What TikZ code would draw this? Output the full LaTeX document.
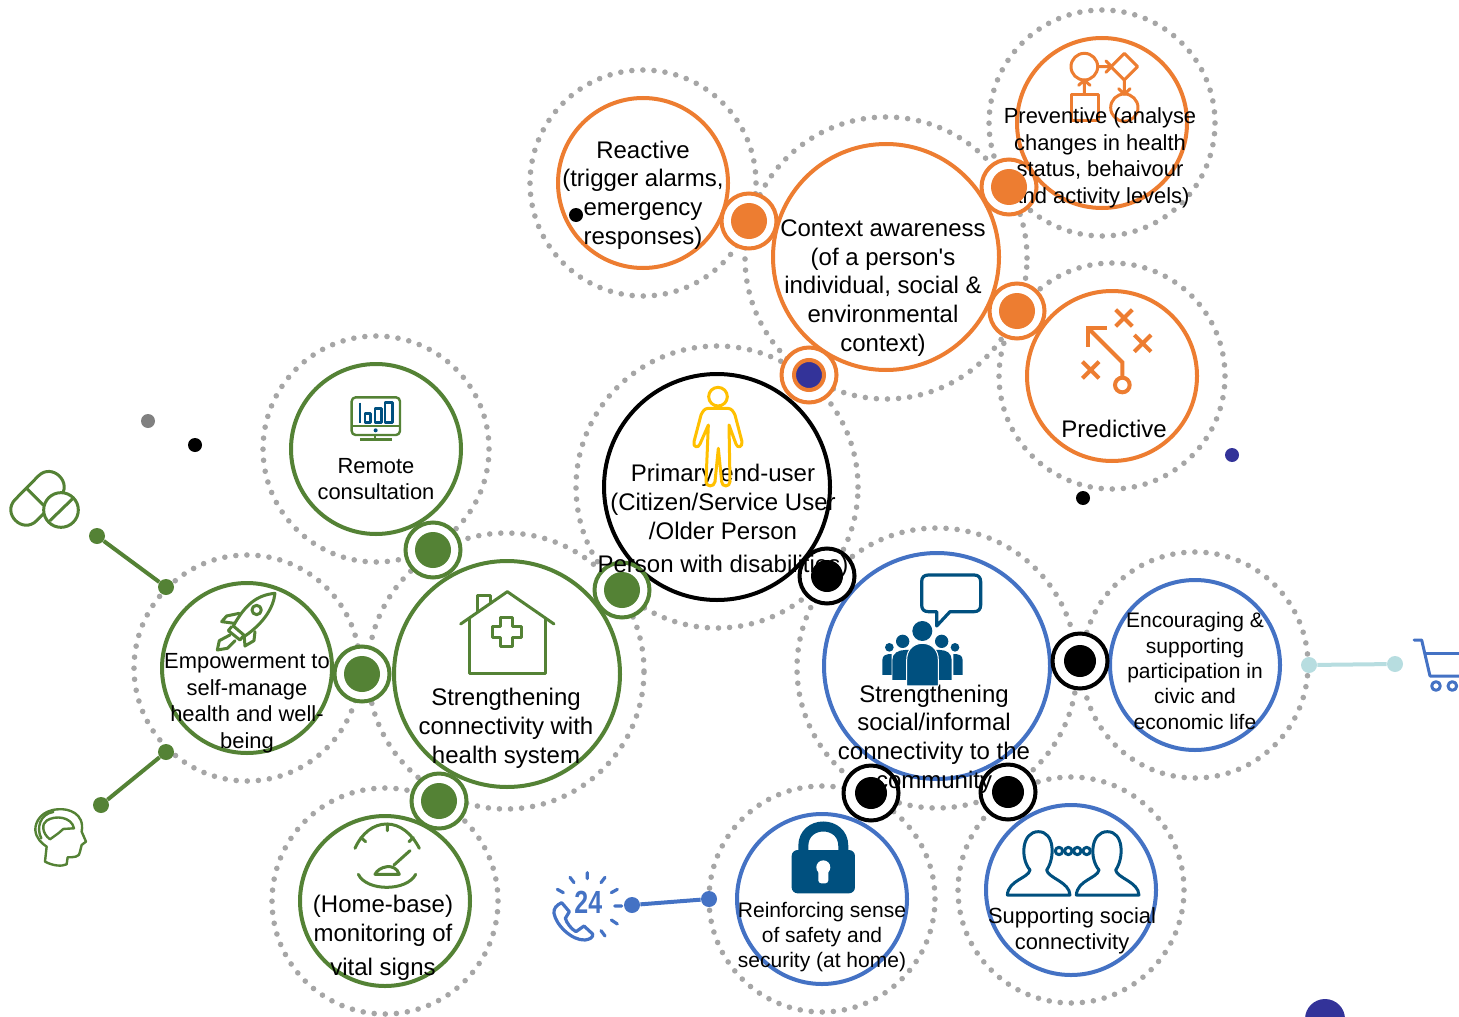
\documentclass[tikz,border=0pt]{standalone}
\usepackage{fontspec}
\setmainfont{Liberation Sans}
\definecolor{oran}{HTML}{ED7D31}
\definecolor{gren}{HTML}{548235}
\definecolor{blu}{HTML}{4472C4}
\definecolor{navy}{HTML}{333399}
\definecolor{deep}{HTML}{00507F}
\definecolor{dotg}{HTML}{A6A6A6}
\definecolor{teal2}{HTML}{B7DDE0}
\definecolor{yell}{HTML}{FFC000}
\tikzset{
 dotring/.style={circle,draw=dotg,line width=2.8pt,line cap=round,dash pattern=on 0pt off 5.55pt,minimum size=#1,inner sep=0pt},
 maincirc/.style={circle,line width=2pt,fill=white,minimum size=#1,inner sep=0pt},
 ringc/.style={circle,line width=2pt,fill=white,minimum size=27.5pt,inner sep=0pt},
 core/.style={circle,minimum size=#1,inner sep=0pt},
 lab/.style={align=center,inner sep=0pt,text=black,font=\fontsize{12}{14.4}\selectfont},
 labm/.style={align=center,inner sep=0pt,text=black,font=\fontsize{10.95}{13.25}\selectfont},
 labs/.style={align=center,inner sep=0pt,text=black,font=\fontsize{10.5}{12.7}\selectfont},
 ico/.style={line width=1.5pt,line join=round,line cap=round},
 tip/.style={circle,minimum size=#1,inner sep=0pt},
 tail/.style={line width=2pt},
}
\begin{document}
\begin{tikzpicture}[x=0.5pt,y=-0.5pt]
\path[clip] (0,0) rectangle (1459,1016);
% dotted halos
\node[dotring=113pt] (dReact) at (643,183) {};
\node[dotring=141pt] (dCtx) at (886,258) {};
\node[dotring=113pt] (dPrev) at (1102,123) {};
\node[dotring=113pt] (dPred) at (1112,376) {};
\node[dotring=141pt] (dPrim) at (717,487) {};
\node[dotring=140pt] (dSoc) at (937,668) {};
\node[dotring=113pt] (dEnc) at (1195,665) {};
\node[dotring=113pt] (dRein) at (822,899) {};
\node[dotring=113pt] (dSup) at (1071,890) {};
\node[dotring=138pt] (dHea) at (506,671) {};
\node[dotring=113pt] (dEmp) at (247,668) {};
\node[dotring=113pt] (dRem) at (376,449) {};
\node[dotring=113pt] (dHome) at (385,901) {};
% main circles
\node[maincirc=85pt,draw=oran] (cReact) at (643,183) {};
\node[maincirc=113pt,draw=oran] (cCtx) at (886,257) {};
\node[maincirc=85pt,draw=oran] (cPrev) at (1102,123) {};
\node[maincirc=85pt,draw=oran] (cPred) at (1112,376) {};
\node[maincirc=113pt,draw=black] (cPrim) at (717,487) {};
\node[maincirc=113pt,draw=blu] (cSoc) at (937,666) {};
\node[maincirc=85pt,draw=blu] (cEnc) at (1195,665) {};
\node[maincirc=85pt,draw=blu] (cRein) at (822,899) {};
\node[maincirc=85pt,draw=blu] (cSup) at (1071,890) {};
\node[maincirc=113pt,draw=gren] (cHea) at (507,674) {};
\node[maincirc=85pt,draw=gren] (cEmp) at (247,668) {};
\node[maincirc=85pt,draw=gren] (cRem) at (376,449) {};
\node[maincirc=85pt,draw=gren] (cHome) at (385,901) {};
% rings
\node[ringc,draw=oran] (rA) at (749,221) {};
\node[ringc,draw=oran] (rB) at (1009,187) {};
\node[ringc,draw=oran] (rC) at (1017,311) {};
\node[ringc,draw=oran] (rD) at (809,375) {};
\node[ringc,draw=black] (rE) at (827,576) {};
\node[ringc,draw=black] (rF) at (1080,661) {};
\node[ringc,draw=black] (rG) at (871,793) {};
\node[ringc,draw=black] (rH) at (1008,792) {};
\node[ringc,draw=gren] (rI) at (433,550) {};
\node[ringc,draw=gren] (rJ) at (622,590) {};
\node[ringc,draw=gren] (rK) at (362,674) {};
\node[ringc,draw=gren] (rL) at (439,801) {};
% Preventive icon (under its text)
\begin{scope}[shift={(980,0)},scale=0.3333,ico,draw=oran]
\draw (313,200) circle (40);
\draw (433,160)--(473,200)--(433,240)--(393,200)--cycle;
\draw (355,200)--(393,200) (378,183)--(395,200)--(378,217);
\draw (273,283) rectangle (355,362);
\draw (313,283)--(313,242) (296,256)--(313,240)--(330,256);
\draw (433,240)--(433,282) (416,266)--(433,283)--(450,266);
\draw (433,323) circle (41);
\end{scope}
% labels
\node[lab] (tReact) at (643,195) {Reactive\\(trigger alarms,\\emergency\\responses)};
\node[lab] (tCtx) at (883,288) {Context awareness\\(of a person\textquotesingle s\\individual, social \&\\environmental\\context)};
\node[labm] (tPrev) at (1100,158) {Preventive (analyse\\changes in health\\status, behaivour\\and activity levels)};
\node[lab] (tPred) at (1114,429) {Predictive};
\node[lab] (tPrim) at (723,521) {Primary end-user\\(Citizen/Service User\\/Older Person\\[2.5pt]Person with disabilities)};
\node[labm] (tRem) at (376,479) {Remote\\consultation};
\node[labm] (tEmp) at (247,703) {Empowerment to\\self-manage\\health and well-\\being};
\node[lab] (tHea) at (506,728) {Strengthening\\connectivity with\\health system};
\node[lab] (tHome) at (383,938) {(Home-base)\\monitoring of\\[2.5pt]vital signs};
\node[lab] (tSoc) at (934,739) {Strengthening\\social/informal\\connectivity to the\\community};
\node[labs] (tEnc) at (1195,671) {Encouraging \&\\supporting\\participation in\\civic and\\economic life};
\node[labs] (tRein) at (822,937) {Reinforcing sense\\of safety and\\security (at home)};
\node[labm] (tSup) at (1072,931) {Supporting social\\connectivity};
% cores
\node[core=18pt,fill=oran] (kA) at (749,221) {};
\node[core=18pt,fill=oran] (kB) at (1009,187) {};
\node[core=18pt,fill=oran] (kC) at (1017,311) {};
\node[core=15pt,fill=navy,draw=oran,line width=2pt] (kD) at (809,375) {};
\node[core=16pt,fill=black] (kE) at (827,576) {};
\node[core=16pt,fill=black] (kF) at (1080,661) {};
\node[core=16pt,fill=black] (kG) at (871,793) {};
\node[core=16pt,fill=black] (kH) at (1008,792) {};
\node[core=18pt,fill=gren] (kI) at (433,550) {};
\node[core=18pt,fill=gren] (kJ) at (622,590) {};
\node[core=18pt,fill=gren] (kK) at (362,674) {};
\node[core=18pt,fill=gren] (kL) at (439,801) {};
% loose dots
\node[core=7pt,fill=black] (s1) at (576,215) {};
\node[core=7pt,fill=gray] (s2) at (148,421) {};
\node[core=7pt,fill=black] (s3) at (195,445) {};
\node[core=7pt,fill=black] (s4) at (1083,498) {};
\node[core=7pt,fill=navy] (s5) at (1232,455) {};
\node[core=20pt,fill=navy] (s6) at (1325,1019) {};
% tails
\node[tip=8pt,fill=gren] (g1) at (97,536) {};
\node[tip=8pt,fill=gren] (g2) at (166,587) {};
\node[tip=8pt,fill=gren] (g3) at (166,752) {};
\node[tip=8pt,fill=gren] (g4) at (101,805) {};
\draw[tail,draw=gren] (g1)--(g2);
\draw[tail,draw=gren] (g3)--(g4);
\node[tip=8pt,fill=blu] (b1) at (632,905) {};
\node[tip=8pt,fill=blu] (b2) at (709,899) {};
\draw[tail,draw=blu] (b1)--(b2);
\node[tip=8pt,fill=teal2] (q1) at (1309,665) {};
\node[tip=8pt,fill=teal2] (q2) at (1395,664) {};
\draw[tail,draw=teal2] (q1)--(q2);
% Predictive icon
\begin{scope}[shift={(1060,300)},scale=0.3333,draw=oran,line width=2pt]
\draw (167,29)--(217,79) (217,29)--(167,79);
\draw (223,105)--(273,155) (273,105)--(223,155);
\draw (67,185)--(117,235) (117,185)--(67,235);
\draw[miter limit=10] (140,85)--(85,85)--(85,140);
\draw (85,85)--(187,187)--(187,228);
\draw (187,255) circle (22);
\end{scope}
% Person icon
\begin{scope}[shift={(680,340)},scale=0.3333,ico,draw=yell]
\draw (114,170) circle (28);
\draw (85,205) -- (143,205) .. controls (155,205) and (160,215) .. (165,225) -- (186,305) .. controls (188,322) and (172,326) .. (168,312) -- (147,255) -- (150,425) .. controls (150,442) and (125,442) .. (125,425) -- (115,325) -- (105,425) .. controls (103,442) and (78,442) .. (78,425) -- (85,255) -- (60,312) .. controls (55,326) and (38,322) .. (42,305) -- (63,225) .. controls (68,215) and (73,205) .. (85,205) -- cycle;
\end{scope}
% Pills
\begin{scope}[shift={(0,400)},scale=0.3333,ico,draw=gren]
\draw (46,298)--(115,228) .. controls (157,186) and (221,250) .. (179,292) -- (110,362) .. controls (68,404) and (4,340) .. (46,298) -- cycle;
\draw (80,265)--(130,315);
\draw[fill=white] (183,330) circle (52);
\draw (150,362)--(217,297);
% Head
\draw[line width=1.2pt] (135,1385) .. controls (160,1398) and (185,1400) .. (200,1393) -- (203,1372) .. controls (220,1372) and (240,1372) .. (240,1355) -- (245,1335) -- (258,1325) -- (245,1295) .. controls (255,1240) and (205,1225) .. (175,1228) .. controls (125,1230) and (105,1265) .. (106,1290) .. controls (108,1315) and (125,1330) .. (140,1340) -- cycle;
\draw[line width=1.2pt] (124,1315) .. controls (108,1285) and (120,1242) .. (160,1236);
\draw[line width=1.2pt] (150,1318) .. controls (125,1300) and (125,1270) .. (140,1262) .. controls (165,1245) and (215,1250) .. (222,1285) -- (190,1287) -- (175,1300) -- cycle;
% Rocket
\draw (825,580) .. controls (770,585) and (735,615) .. (700,678) -- (735,708) .. controls (790,670) and (820,625) .. (825,580) -- cycle;
\draw (770,630) circle (14);
\draw (685,692)--(695,680) (685,692)--(720,720) (720,720)--(730,708);
\draw (718,640) -- (680,648) -- (665,665) -- (703,670);
\draw (765,695) -- (762,722) -- (735,738) -- (733,712);
\draw (690,705) -- (658,722) -- (652,750) -- (682,745) -- (705,722);
\end{scope}
% Remote icon
\begin{scope}[shift={(200,380)},scale=0.3333,line width=1.2pt,line join=round]
\draw[gren,rounded corners=2pt] (455,52) rectangle (600,165);
\draw[gren] (455,138)--(600,138) (525,165)--(525,178) (480,178)--(575,178);
\draw[deep] (480,68)--(480,130);
\draw[deep] (495,100) rectangle (512,128) (525,85) rectangle (545,128) (555,68) rectangle (577,128);
\fill[deep] (527,151) circle (6);
\end{scope}
% House
\begin{scope}[shift={(440,580)},scale=0.3333,ico,draw=gren]
\draw (62,132)--(202,35)--(342,132);
\draw (88,115)--(88,280)--(318,280)--(318,115);
\draw (112,95)--(112,45)--(150,45)--(150,70);
\draw (182,113)--(218,113)--(218,140)--(245,140)--(245,172)--(218,172)--(218,200)--(182,200)--(182,172)--(157,172)--(157,140)--(182,140)--cycle;
\end{scope}
% Gauge
\begin{scope}[shift={(330,810)},scale=0.3333,ico,draw=gren]
\draw (75,115) .. controls (95,70) and (130,42) .. (170,42) .. controls (210,42) and (245,70) .. (268,115);
\draw (172,42)--(172,62) (93,83)--(107,95) (250,83)--(237,95);
\draw (85,193) .. controls (110,245) and (230,245) .. (257,193);
\draw (192,165)--(240,122);
\draw (135,193) .. controls (145,170) and (195,155) .. (208,193) -- cycle;
\end{scope}
% Community icon
\begin{scope}[shift={(850,560)},scale=0.3333]
\draw[deep,line width=1.6pt,line join=round] (235,45) -- (372,45) .. controls (385,45) and (392,52) .. (392,65) -- (392,135) .. controls (392,148) and (385,155) .. (372,155) -- (300,155) -- (260,198) -- (260,155) -- (235,155) .. controls (222,155) and (215,148) .. (215,135) -- (215,65) .. controls (215,52) and (222,45) .. (235,45) -- cycle;
\fill[deep] (118,262) circle (13) (315,262) circle (13);
\fill[deep] (97,345) -- (97,300) .. controls (97,285) and (110,282) .. (125,282) -- (125,345) -- cycle;
\fill[deep] (338,345) -- (338,300) .. controls (338,285) and (325,282) .. (310,282) -- (310,345) -- cycle;
\fill[deep] (158,244) circle (20) (275,244) circle (20);
\fill[deep] (127,360) -- (127,300) .. controls (127,280) and (145,270) .. (165,270) -- (200,270) -- (200,360) -- cycle;
\fill[deep] (305,360) -- (305,300) .. controls (305,280) and (290,270) .. (270,270) -- (235,270) -- (235,360) -- cycle;
\fill[deep] (217,213) circle (30);
\draw[white,line width=.5pt,fill=deep] (170,378) -- (170,300) .. controls (170,265) and (195,250) .. (217,250) .. controls (240,250) and (265,265) .. (265,300) -- (265,378) -- cycle;
\end{scope}
% Lock
\begin{scope}[shift={(540,810)},scale=0.3333]
\draw[deep,line width=5pt] (790,125)--(790,108) .. controls (790,30) and (910,30) .. (910,108) --(910,125);
\fill[deep,rounded corners=3pt] (755,120) rectangle (945,250);
\fill[white] (850,172) circle (21);
\fill[white,rounded corners=1.5pt] (835,175) rectangle (865,220);
\end{scope}
% Phone and 24
\begin{scope}[shift={(540,810)},scale=0.3333,line cap=round,line width=1.6pt,draw=blu]
\draw[blu] (142,188)--(142,206) (90,202)--(102,218) (195,202)--(183,218) (52,238)--(70,248) (232,238)--(214,248) (224,288)--(245,288) (214,330)--(232,342) (183,362)--(195,378);
\draw[blu,line join=round] (65,278) .. controls (50,285) and (40,295) .. (42,310) .. controls (48,345) and (95,392) .. (135,390) .. controls (150,388) and (160,382) .. (158,372) -- (132,348) -- (108,365) .. controls (95,358) and (80,340) .. (76,325) -- (88,305) -- cycle;
\node[text=blu,inner sep=0pt,font=\fontsize{16}{16}\bfseries\selectfont,xscale=.78] (n24) at (145,276) {24};
\end{scope}
% Two people
\begin{scope}[shift={(990,810)},scale=0.3333,ico,draw=deep]
\foreach \dx in {0,207}{
\draw[shift={(\dx,0)}] (52,255) -- (240,255) .. controls (238,215) and (175,205) .. (170,180) .. controls (195,145) and (195,65) .. (145,65) .. controls (95,65) and (90,145) .. (120,180) .. controls (115,205) and (55,210) .. (52,255) -- cycle;}
\foreach \cx in {207,235,262,290}{\draw (\cx,123) circle (11);}
\end{scope}
% Cart
\begin{scope}[shift={(1290,620)},scale=0.3333,ico,draw=blu]
\draw (372,60)--(395,60)--(420,168)--(520,168);
\draw (405,100)--(520,100);
\draw (438,198) circle (13) (487,198) circle (13);
\end{scope}
\end{tikzpicture}
\end{document}
